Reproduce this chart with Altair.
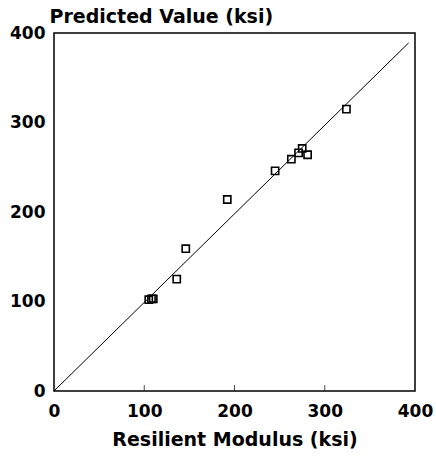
import altair as alt
import pandas as pd

# Measured points (Resilient Modulus vs Predicted Value, ksi)
meas_x = [105, 108, 110, 136, 146, 192, 245, 263, 271, 275, 281, 324]
pred_y = [102, 103, 103, 125, 159, 214, 246, 259, 266, 271, 264, 315]

# Line of equality
line_x = [0, 393]
line_y = [0, 389]

x_ticks = [0, 100, 200, 300, 400]
y_ticks = [0, 100, 200, 300, 400]
inner_ticks = [100, 200, 300]

pts = pd.DataFrame({"x": meas_x, "y": pred_y})
ln = pd.DataFrame({"x": line_x, "y": line_y})
tk = pd.DataFrame({"x": inner_ticks})

FONT = "DejaVu Sans"

xscale = alt.Scale(domain=[0, 400], nice=False, zero=False)
yscale = alt.Scale(domain=[0, 400], nice=False, zero=False)

xaxis = alt.Axis(
    title="Resilient Modulus (ksi)", values=x_ticks, grid=False, ticks=False,
    domain=False, labelFont=FONT, labelFontWeight="bold", labelFontSize=17,
    labelColor="black", labelPadding=12, titleFont=FONT, titleFontWeight="bold",
    titleFontSize=19, titleColor="black", titlePadding=11, labelFlush=False,
)
yaxis = alt.Axis(
    title="Predicted Value (ksi)", values=y_ticks, grid=False, ticks=False,
    domain=False, labelFont=FONT, labelFontWeight="bold", labelFontSize=17,
    labelColor="black", labelPadding=9, titleFont=FONT, titleFontWeight="bold",
    titleFontSize=19, titleColor="black", titleAngle=0, titleAlign="left",
    titleBaseline="alphabetic", titleX=-5, titleY=-11, labelFlush=False,
)

line = alt.Chart(ln).mark_line(color="black", strokeWidth=1).encode(
    x=alt.X("x:Q", scale=xscale, axis=xaxis),
    y=alt.Y("y:Q", scale=yscale, axis=yaxis),
)

points = alt.Chart(pts).mark_point(
    shape="square", filled=False, color="black", strokeWidth=1.6, size=52, opacity=1
).encode(
    x=alt.X("x:Q", scale=xscale),
    y=alt.Y("y:Q", scale=yscale),
)

ticks = alt.Chart(tk).mark_tick(
    orient="vertical", color="black", size=6, thickness=1
).encode(
    x=alt.X("x:Q", scale=xscale),
    y=alt.value(355),
)

chart = (
    alt.layer(line, points, ticks)
    .properties(
        width=361,
        height=358,
        autosize=alt.AutoSizeParams(type="none"),
        padding={"left": 54, "top": 33, "right": 21, "bottom": 70},
        background="white",
    )
    .configure_view(stroke="black", strokeWidth=1.5)
)

chart.save("out.html", embed_options={"renderer": "svg", "actions": False})
